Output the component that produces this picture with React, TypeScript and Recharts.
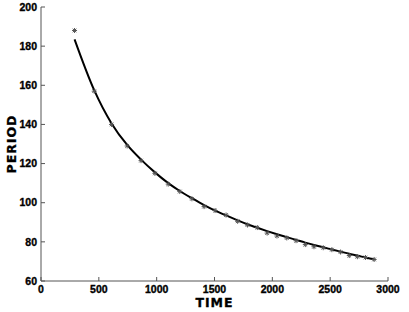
import React from "react";
import {
  ComposedChart,
  Line,
  Scatter,
  XAxis,
  YAxis,
} from "recharts";

// measured periods (stars)
const times = [
  290, 460, 610, 745, 865, 985, 1100, 1200, 1305, 1410, 1505, 1600, 1700, 1785,
  1870, 1955, 2040, 2125, 2205, 2285, 2360, 2440, 2515, 2590, 2665, 2735, 2805, 2880,
];
const periods = [
  188, 157, 140, 129, 121.5, 115, 109.5, 105.7, 102, 98, 96, 93.7, 90.5, 88.6,
  87.3, 84.5, 83, 82, 80.6, 78.6, 77.5, 77, 76, 74.8, 73, 72.4, 72, 71,
];
// fitted curve read at the same times
const fitted = [
  183.5, 157.5, 140.5, 129.5, 122, 115.5, 110, 106, 102.3, 98.8, 96, 93.5, 91, 89,
  87.2, 85.5, 83.9, 82.4, 81, 79.6, 78.4, 77.2, 76.1, 75, 73.9, 73, 72, 71,
];

const xTicks = [0, 500, 1000, 1500, 2000, 2500, 3000];
const yTicks = [60, 80, 100, 120, 140, 160, 180, 200];

const data = times.map((t, i) => ({ time: t, period: periods[i], fit: fitted[i] }));

const axisColor = "#555";
const tickFont = {
  fontSize: 10.5,
  fontWeight: "bold",
  fill: "#000",
  stroke: "#000",
  strokeWidth: 0.35,
  fontFamily: "Liberation Sans, Arial",
};
const titleFont = {
  fontSize: 12.5,
  fontWeight: "bold",
  fill: "#000",
  stroke: "#000",
  strokeWidth: 0.3,
  letterSpacing: 1,
  fontFamily: "DejaVu Sans",
};

const Star = (props: any) => {
  const { cx, cy } = props;
  const r = 2.5;
  return (
    <g stroke="#555" strokeWidth={1}>
      <line x1={cx - r} y1={cy} x2={cx + r} y2={cy} />
      <line x1={cx} y1={cy - r} x2={cx} y2={cy + r} />
      <line x1={cx - 1.8} y1={cy - 1.8} x2={cx + 1.8} y2={cy + 1.8} />
      <line x1={cx - 1.8} y1={cy + 1.8} x2={cx + 1.8} y2={cy - 1.8} />
    </g>
  );
};

const NoTick = () => <g />;

export default function App() {
  return (
    <div style={{ position: "absolute", left: 0, top: 0, background: "#fff" }}>
      <ComposedChart
        width={409}
        height={312}
        data={data}
        margin={{ top: 7, right: 21, bottom: 0, left: 0 }}
      >
        <XAxis
          dataKey="time"
          type="number"
          domain={[0, 3000]}
          ticks={xTicks}
          stroke={axisColor}
          tickSize={-4}
          tickMargin={9}
          tick={tickFont}
          height={31}
          label={{
            value: "TIME",
            position: "insideBottom",
            offset: 5,
            style: titleFont,
          }}
        />
        <XAxis
          xAxisId="top"
          orientation="top"
          dataKey="time"
          type="number"
          domain={[0, 3000]}
          ticks={xTicks}
          stroke={axisColor}
          tickSize={-4}
          tick={NoTick}
          height={0}
        />
        <YAxis
          type="number"
          domain={[60, 200]}
          ticks={yTicks}
          stroke={axisColor}
          tickSize={-4}
          tickMargin={8}
          tick={tickFont}
          width={41}
          label={{
            value: "PERIOD",
            angle: -90,
            position: "center",
            dx: -9,
            style: titleFont,
          }}
        />
        <YAxis
          yAxisId="right"
          orientation="right"
          type="number"
          domain={[60, 200]}
          ticks={yTicks}
          stroke={axisColor}
          tickSize={-4}
          tick={NoTick}
          width={0}
        />
        <Line
          dataKey="fit"
          type="monotone"
          stroke="#000"
          strokeWidth={2}
          dot={false}
          isAnimationActive={false}
        />
        <Scatter dataKey="period" shape={Star} isAnimationActive={false} />
      </ComposedChart>
    </div>
  );
}
